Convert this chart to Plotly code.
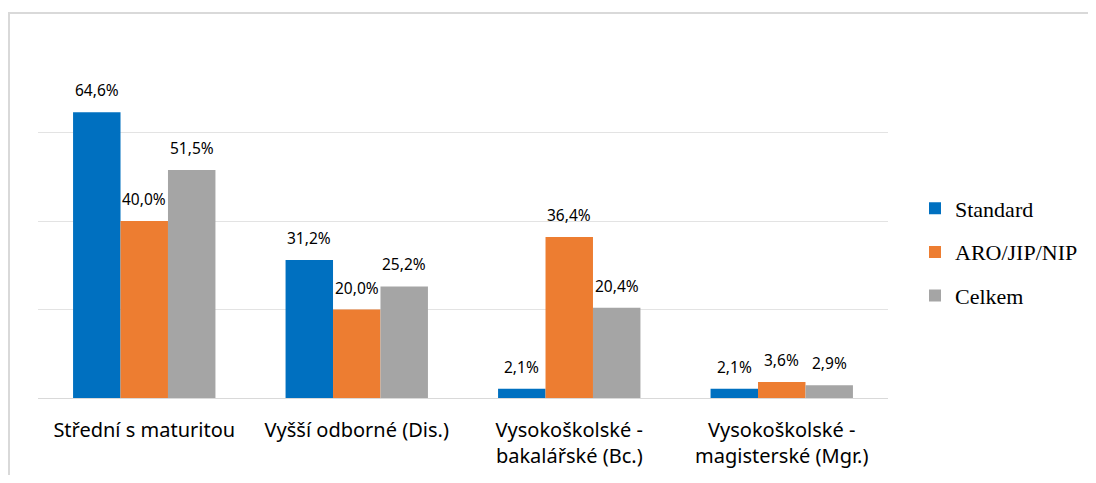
import plotly.graph_objects as go

categories = ["Střední s maturitou", "Vyšší odborné (Dis.)",
              "Vysokoškolské -<br>bakalářské (Bc.)", "Vysokoškolské -<br>magisterské (Mgr.)"]
series_names = ["Standard", "ARO/JIP/NIP", "Celkem"]
standard = [64.6, 31.2, 2.1, 2.1]
aro = [40.0, 20.0, 36.4, 3.6]
celkem = [51.5, 25.2, 20.4, 2.9]
colors = ["#0070C0", "#ED7D31", "#A5A5A5"]

# page body has an 8px margin: figure occupies (8,8)..(1088,475)
W, H = 1080, 467
ml, mr, mt, mb = 30, 200, 36, 77
bargap = 0.33

pw = W - ml - mr
ph = H - mt - mb
bar_px = pw / len(categories) * (1 - bargap) / len(series_names)

fig = go.Figure()
all_series = [standard, aro, celkem]
for i, (name, vals) in enumerate(zip(series_names, all_series)):
    fig.add_trace(go.Bar(
        x=categories, y=vals, name=name, marker_color=colors[i],
        marker_line_width=0, legendgroup=name,
    ))
    for c, v in zip(categories, vals):
        fig.add_annotation(
            x=c, y=v, xref="x", yref="y", text=f"{v:.1f}%".replace(".", ","),
            showarrow=False, xanchor="center", yanchor="middle",
            xshift=(i - 1) * bar_px, yshift=22,
            font=dict(family="Noto Sans", size=15.5, color="#000000"),
        )

fig.add_shape(type="rect", xref="paper", yref="paper",
              x0=(1 - ml) / pw, x1=(1300 - ml) / pw,
              y0=(H - mb - 700) / ph, y1=(H - mb - 5) / ph,
              line=dict(color="#D9D9D9", width=2), fillcolor="rgba(0,0,0,0)", layer="below")

fig.update_layout(
    width=W, height=H, barmode="group", bargap=bargap, bargroupgap=0,
    separators=",.",
    margin=dict(l=ml, r=mr, t=mt, b=mb, autoexpand=False),
    plot_bgcolor="white", paper_bgcolor="white",
    xaxis=dict(showgrid=False, showline=True, linecolor="#D9D9D9", linewidth=1,
               tickfont=dict(family="Noto Sans", size=20, color="#000000"),
               ticks="", ticklen=0, ticklabelstandoff=14),
    yaxis=dict(range=[0, 80], dtick=20, showgrid=True, gridcolor="#E3E3E3", gridwidth=1,
               showticklabels=False, zeroline=False, ticks=""),
    legend=dict(x=(907 - ml) / pw, xanchor="left", y=(H - mb - 244) / ph, yanchor="middle",
                font=dict(family="Liberation Serif", size=22, color="#000000"),
                tracegroupgap=12, itemwidth=30),
    showlegend=True,
)

fig.write_html("out.html")
